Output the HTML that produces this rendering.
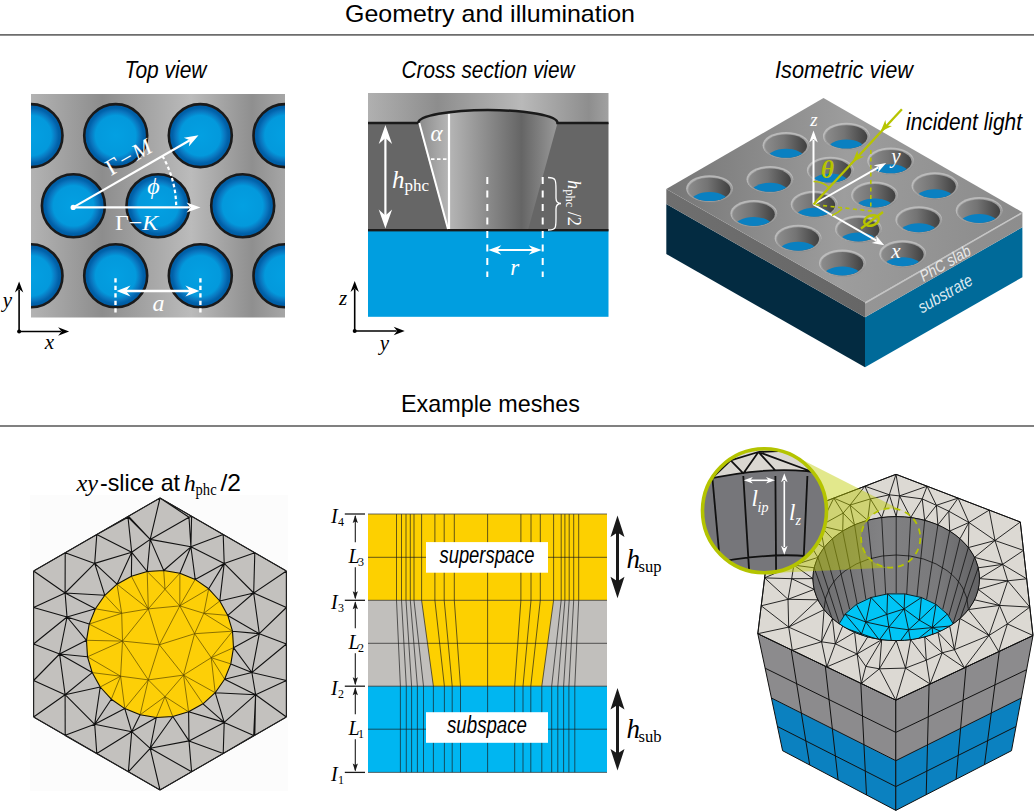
<!DOCTYPE html><html><head><meta charset="utf-8"><style>html,body{margin:0;padding:0;background:#fff;}svg{display:block;}</style></head><body>
<svg width="1034" height="811" viewBox="0 0 1034 811">
<defs>
<linearGradient id="metal" x1="0" y1="0" x2="1" y2="0">
<stop offset="0" stop-color="#b3b3b3"/><stop offset="0.28" stop-color="#8d8d8d"/><stop offset="0.63" stop-color="#bbbbbb"/><stop offset="0.87" stop-color="#8f8f8f"/><stop offset="1" stop-color="#a6a6a6"/></linearGradient>
<radialGradient id="holeg" cx="0.5" cy="0.5" r="0.5">
<stop offset="0" stop-color="#03a0e2"/><stop offset="0.64" stop-color="#0399dc"/><stop offset="0.79" stop-color="#0a74bd"/><stop offset="0.88" stop-color="#0062aa"/><stop offset="1" stop-color="#0058a0"/></radialGradient>
<linearGradient id="cone" gradientUnits="userSpaceOnUse" x1="418" y1="0" x2="558" y2="0">
<stop offset="0" stop-color="#8a8a8a"/><stop offset="0.22" stop-color="#b6b6b6"/><stop offset="0.74" stop-color="#656565"/><stop offset="1" stop-color="#9a9a9a"/></linearGradient>
<linearGradient id="metal2" gradientUnits="userSpaceOnUse" x1="368" y1="0" x2="608" y2="0">
<stop offset="0" stop-color="#b0b0b0"/><stop offset="0.29" stop-color="#8d8d8d"/><stop offset="0.64" stop-color="#b9b9b9"/><stop offset="0.92" stop-color="#8e8e8e"/><stop offset="1" stop-color="#a0a0a0"/></linearGradient>
<clipPath id="tvclip"><rect x="31" y="94" width="254" height="223.5"/></clipPath>

</defs>
<text x="345" y="21.5" font-family='"Liberation Sans", sans-serif' font-size="24" fill="#000"  text-anchor="start" textLength="290" lengthAdjust="spacingAndGlyphs" >Geometry and illumination</text>
<rect x="0" y="34.2" width="1034" height="1.4" fill="#4a4a4a"/>
<text x="401" y="411.5" font-family='"Liberation Sans", sans-serif' font-size="24" fill="#000"  text-anchor="start" textLength="179" lengthAdjust="spacingAndGlyphs" >Example meshes</text>
<rect x="0" y="425.3" width="1034" height="1.4" fill="#4a4a4a"/>
<text x="124.5" y="78.2" font-family='"Liberation Sans", sans-serif' font-size="24" fill="#000" font-style="italic" text-anchor="start" textLength="82" lengthAdjust="spacingAndGlyphs" >Top view</text>
<text x="401.5" y="78.2" font-family='"Liberation Sans", sans-serif' font-size="24" fill="#000" font-style="italic" text-anchor="start" textLength="173" lengthAdjust="spacingAndGlyphs" >Cross section view</text>
<text x="775" y="78.2" font-family='"Liberation Sans", sans-serif' font-size="24" fill="#000" font-style="italic" text-anchor="start" textLength="138" lengthAdjust="spacingAndGlyphs" >Isometric view</text>
<rect x="31" y="94" width="254" height="223.5" fill="url(#metal)"/>
<g clip-path="url(#tvclip)">
<circle cx="31" cy="135.6" r="31.5" fill="url(#holeg)" stroke="#1a1a1a" stroke-width="2.6"/>
<circle cx="115.7" cy="135.6" r="31.5" fill="url(#holeg)" stroke="#1a1a1a" stroke-width="2.6"/>
<circle cx="200.3" cy="135.6" r="31.5" fill="url(#holeg)" stroke="#1a1a1a" stroke-width="2.6"/>
<circle cx="285" cy="135.6" r="31.5" fill="url(#holeg)" stroke="#1a1a1a" stroke-width="2.6"/>
<circle cx="-11.3" cy="205.8" r="31.5" fill="url(#holeg)" stroke="#1a1a1a" stroke-width="2.6"/>
<circle cx="73.4" cy="205.8" r="31.5" fill="url(#holeg)" stroke="#1a1a1a" stroke-width="2.6"/>
<circle cx="158" cy="205.8" r="31.5" fill="url(#holeg)" stroke="#1a1a1a" stroke-width="2.6"/>
<circle cx="242.7" cy="205.8" r="31.5" fill="url(#holeg)" stroke="#1a1a1a" stroke-width="2.6"/>
<circle cx="327.4" cy="205.8" r="31.5" fill="url(#holeg)" stroke="#1a1a1a" stroke-width="2.6"/>
<circle cx="31" cy="275.8" r="31.5" fill="url(#holeg)" stroke="#1a1a1a" stroke-width="2.6"/>
<circle cx="115.7" cy="275.8" r="31.5" fill="url(#holeg)" stroke="#1a1a1a" stroke-width="2.6"/>
<circle cx="200.3" cy="275.8" r="31.5" fill="url(#holeg)" stroke="#1a1a1a" stroke-width="2.6"/>
<circle cx="285" cy="275.8" r="31.5" fill="url(#holeg)" stroke="#1a1a1a" stroke-width="2.6"/>
</g>
<line x1="73.2" y1="207.4" x2="190" y2="207.4" stroke="#fff" stroke-width="2.2"/>
<path d="M200.50,207.40 L186.50,212.40 L190.50,207.40 L186.50,202.40Z" fill="#fff"/>
<line x1="73.2" y1="207.4" x2="189.84" y2="140.19" stroke="#fff" stroke-width="2.2"/>
<path d="M198.50,135.20 L188.87,146.52 L189.84,140.19 L183.87,137.86Z" fill="#fff"/>
<circle cx="73.2" cy="207.4" r="2.6" fill="#fff"/>
<path d="M162.44,155.98 A103,103 0 0 1 176.20,207.4" fill="none" stroke="#fff" stroke-width="2.2" stroke-dasharray="3.5 2.5"/>
<g transform="translate(129,157.5) rotate(-29.95)">
<text x="0" y="7" font-family='"Liberation Serif", serif' font-size="23" fill="#fff" text-anchor="middle"><tspan>Γ</tspan><tspan dx="2">−</tspan><tspan dx="2" font-style="italic">M</tspan></text>
</g>
<text x="153.5" y="193.5" font-family='"Liberation Serif", serif' font-size="24" fill="#fff" font-style="italic" text-anchor="middle"  >ϕ</text>
<text x="115" y="229.9" font-family='"Liberation Serif", serif' font-size="21.5" fill="#fff" textLength="43.3" lengthAdjust="spacingAndGlyphs"><tspan>Γ−</tspan><tspan font-style="italic">K</tspan></text>
<line x1="115.5" y1="278.3" x2="115.5" y2="312.5" stroke="#fff" stroke-width="2.4" stroke-dasharray="4.2 3.3"/>
<line x1="200.4" y1="278.3" x2="200.4" y2="312.5" stroke="#fff" stroke-width="2.4" stroke-dasharray="4.2 3.3"/>
<line x1="125" y1="291" x2="191" y2="291" stroke="#fff" stroke-width="2.3"/>
<path d="M116.50,291.00 L130.50,285.50 L126.00,291.00 L130.50,296.50Z" fill="#fff"/>
<path d="M199.40,291.00 L185.40,296.50 L189.90,291.00 L185.40,285.50Z" fill="#fff"/>
<text x="158.5" y="310.5" font-family='"Liberation Serif", serif' font-size="24" fill="#fff" font-style="italic" text-anchor="middle"  >a</text>
<line x1="19.1" y1="331.5" x2="19.1" y2="289.5" stroke="#000" stroke-width="1.6"/>
<path d="M19.10,281.50 L23.30,292.50 L19.10,289.00 L14.90,292.50Z" fill="#000"/>
<line x1="19.1" y1="331.5" x2="61.1" y2="331.5" stroke="#000" stroke-width="1.6"/>
<path d="M69.10,331.50 L58.10,335.70 L61.60,331.50 L58.10,327.30Z" fill="#000"/>
<circle cx="19.1" cy="331.5" r="2" fill="#000"/>
<text x="49.4" y="348.5" font-family='"Liberation Serif", serif' font-size="21" fill="#000" font-style="italic" text-anchor="middle"  >x</text>
<text x="7.5" y="307" font-family='"Liberation Serif", serif' font-size="21" fill="#000" font-style="italic" text-anchor="middle"  >y</text>
<rect x="368" y="93" width="240.5" height="31" fill="url(#metal2)"/>
<rect x="368" y="123" width="240.5" height="107.5" fill="#666666"/>
<rect x="368" y="230" width="240.5" height="86.8" fill="#009ee0"/>
<path d="M418.3,123 A69.6,13 0 0 1 557.5,123 L528,230 L448,230 Z" fill="url(#cone)"/>
<path d="M368,123 L418.3,123 A69.6,13 0 0 1 557.5,123 L608.5,123" fill="none" stroke="#1a1a1a" stroke-width="2.5"/>
<rect x="368" y="229" width="240.5" height="2.4" fill="#1a1a1a"/>
<line x1="419.3" y1="123" x2="448" y2="229" stroke="#fff" stroke-width="2"/>
<line x1="449" y1="114" x2="449" y2="229" stroke="#fff" stroke-width="2.2"/>
<line x1="431" y1="159.2" x2="448" y2="159.2" stroke="#fff" stroke-width="1.8" stroke-dasharray="3.5 2.5"/>
<text x="436.5" y="141" font-family='"Liberation Serif", serif' font-size="23" fill="#fff" font-style="italic" text-anchor="middle"  >α</text>
<line x1="385.4" y1="135" x2="385.4" y2="218" stroke="#fff" stroke-width="2.2"/>
<path d="M385.40,125.00 L392.10,144.00 L385.40,138.00 L378.70,144.00Z" fill="#fff"/>
<path d="M385.40,228.50 L378.70,209.50 L385.40,215.50 L392.10,209.50Z" fill="#fff"/>
<text x="392" y="188" font-family='"Liberation Serif", serif' font-size="25" fill="#fff"><tspan font-style="italic">h</tspan><tspan font-size="17" dy="3">phc</tspan></text>
<line x1="487.3" y1="177" x2="487.3" y2="277" stroke="#fff" stroke-width="2" stroke-dasharray="7 6.5"/>
<line x1="542.7" y1="177" x2="542.7" y2="277" stroke="#fff" stroke-width="2" stroke-dasharray="7 6.5"/>
<line x1="496" y1="250" x2="534" y2="250" stroke="#fff" stroke-width="2"/>
<path d="M488.30,250.00 L501.30,245.20 L497.30,250.00 L501.30,254.80Z" fill="#fff"/>
<path d="M541.70,250.00 L528.70,254.80 L532.70,250.00 L528.70,245.20Z" fill="#fff"/>
<text x="514.8" y="275" font-family='"Liberation Serif", serif' font-size="23" fill="#fff" font-style="italic" text-anchor="middle"  >r</text>
<path d="M548,177.5 C556,177.5 556,180 556,190 L556,198 C556,202 558,203.5 561,203.5 C558,203.5 556,205 556,209 L556,218 C556,228 556,230 548,230" fill="none" stroke="#fff" stroke-width="1.3"/>
<g transform="translate(568,180) rotate(90)"><text x="0" y="0" font-family='"Liberation Serif", serif' font-size="19" fill="#fff" textLength="46" lengthAdjust="spacingAndGlyphs"><tspan font-style="italic">h</tspan><tspan font-size="13" dy="2">phc</tspan><tspan dy="-2"> /2</tspan></text></g>
<line x1="354.7" y1="331" x2="354.7" y2="289" stroke="#000" stroke-width="1.6"/>
<path d="M354.70,281.00 L358.90,292.00 L354.70,288.50 L350.50,292.00Z" fill="#000"/>
<line x1="354.7" y1="331" x2="396.7" y2="331" stroke="#000" stroke-width="1.6"/>
<path d="M404.70,331.00 L393.70,335.20 L397.20,331.00 L393.70,326.80Z" fill="#000"/>
<circle cx="354.7" cy="331" r="2" fill="#000"/>
<text x="384.5" y="350" font-family='"Liberation Serif", serif' font-size="21" fill="#000" font-style="italic" text-anchor="middle"  >y</text>
<text x="343" y="305" font-family='"Liberation Serif", serif' font-size="21" fill="#000" font-style="italic" text-anchor="middle"  >z</text>
<defs>
<linearGradient id="isotop" gradientUnits="userSpaceOnUse" x1="666" y1="189" x2="1022" y2="212">
<stop offset="0" stop-color="#767676"/><stop offset="0.5" stop-color="#9d9d9d"/><stop offset="1" stop-color="#8a8a8a"/></linearGradient>
<linearGradient id="isowall" x1="0" y1="0" x2="1" y2="0">
<stop offset="0" stop-color="#8c8c8c"/><stop offset="0.45" stop-color="#747474"/><stop offset="1" stop-color="#404040"/></linearGradient>
<linearGradient id="slabL" gradientUnits="userSpaceOnUse" x1="666" y1="0" x2="865" y2="0">
<stop offset="0" stop-color="#6f6f6f"/><stop offset="1" stop-color="#666666"/></linearGradient>
<linearGradient id="slabR" gradientUnits="userSpaceOnUse" x1="865" y1="0" x2="1022" y2="0">
<stop offset="0" stop-color="#959595"/><stop offset="1" stop-color="#8d8d8d"/></linearGradient>
</defs>
<polygon points="666.30,204.10 865.00,317.30 865.00,367.30 666.30,254.10" fill="#032b41"/>
<polygon points="865.00,317.30 1022.40,227.20 1022.40,277.20 865.00,367.30" fill="#006a99"/>
<polygon points="666.30,189.10 865.00,302.30 865.00,317.30 666.30,204.10" fill="url(#slabL)"/>
<polygon points="865.00,302.30 1022.40,212.20 1022.40,227.20 865.00,317.30" fill="url(#slabR)"/>
<polygon points="823.50,98.00 1022.40,212.20 865.00,302.30 666.30,189.10" fill="url(#isotop)"/>
<polyline points="865.00,303.10 1021.40,213.20" fill="none" stroke="#cacaca" stroke-width="1.6" stroke-opacity="0.9"/>
<clipPath id="hc0"><ellipse cx="785.98" cy="146.12" rx="21" ry="11.7"/></clipPath>
<ellipse cx="785.98" cy="145.32" rx="23.4" ry="13.4" fill="#c4c4c4" opacity="0.8"/>
<ellipse cx="786.58" cy="146.52" rx="22.6" ry="12.8" fill="#8a8a8a" opacity="0.6"/>
<ellipse cx="785.98" cy="146.12" rx="21" ry="11.7" fill="url(#isowall)"/>
<ellipse cx="785.98" cy="159.32" rx="19.5" ry="10.5" fill="#0a80c1" clip-path="url(#hc0)"/>
<clipPath id="hc1"><ellipse cx="846.33" cy="136.87" rx="21" ry="11.7"/></clipPath>
<ellipse cx="846.33" cy="136.07" rx="23.4" ry="13.4" fill="#c4c4c4" opacity="0.8"/>
<ellipse cx="846.93" cy="137.27" rx="22.6" ry="12.8" fill="#8a8a8a" opacity="0.6"/>
<ellipse cx="846.33" cy="136.87" rx="21" ry="11.7" fill="url(#isowall)"/>
<ellipse cx="846.33" cy="150.07" rx="19.5" ry="10.5" fill="#0a80c1" clip-path="url(#hc1)"/>
<clipPath id="hc2"><ellipse cx="709.53" cy="189.40" rx="21" ry="11.7"/></clipPath>
<ellipse cx="709.53" cy="188.60" rx="23.4" ry="13.4" fill="#c4c4c4" opacity="0.8"/>
<ellipse cx="710.13" cy="189.80" rx="22.6" ry="12.8" fill="#8a8a8a" opacity="0.6"/>
<ellipse cx="709.53" cy="189.40" rx="21" ry="11.7" fill="url(#isowall)"/>
<ellipse cx="709.53" cy="202.60" rx="19.5" ry="10.5" fill="#0a80c1" clip-path="url(#hc2)"/>
<clipPath id="hc3"><ellipse cx="769.88" cy="180.16" rx="21" ry="11.7"/></clipPath>
<ellipse cx="769.88" cy="179.35" rx="23.4" ry="13.4" fill="#c4c4c4" opacity="0.8"/>
<ellipse cx="770.48" cy="180.55" rx="22.6" ry="12.8" fill="#8a8a8a" opacity="0.6"/>
<ellipse cx="769.88" cy="180.16" rx="21" ry="11.7" fill="url(#isowall)"/>
<ellipse cx="769.88" cy="193.35" rx="19.5" ry="10.5" fill="#0a80c1" clip-path="url(#hc3)"/>
<clipPath id="hc4"><ellipse cx="830.24" cy="170.91" rx="21" ry="11.7"/></clipPath>
<ellipse cx="830.24" cy="170.11" rx="23.4" ry="13.4" fill="#c4c4c4" opacity="0.8"/>
<ellipse cx="830.84" cy="171.31" rx="22.6" ry="12.8" fill="#8a8a8a" opacity="0.6"/>
<ellipse cx="830.24" cy="170.91" rx="21" ry="11.7" fill="url(#isowall)"/>
<ellipse cx="830.24" cy="184.11" rx="19.5" ry="10.5" fill="#0a80c1" clip-path="url(#hc4)"/>
<clipPath id="hc5"><ellipse cx="890.59" cy="161.67" rx="21" ry="11.7"/></clipPath>
<ellipse cx="890.59" cy="160.87" rx="23.4" ry="13.4" fill="#c4c4c4" opacity="0.8"/>
<ellipse cx="891.19" cy="162.06" rx="22.6" ry="12.8" fill="#8a8a8a" opacity="0.6"/>
<ellipse cx="890.59" cy="161.67" rx="21" ry="11.7" fill="url(#isowall)"/>
<ellipse cx="890.59" cy="174.87" rx="19.5" ry="10.5" fill="#0a80c1" clip-path="url(#hc5)"/>
<clipPath id="hc6"><ellipse cx="753.79" cy="214.19" rx="21" ry="11.7"/></clipPath>
<ellipse cx="753.79" cy="213.39" rx="23.4" ry="13.4" fill="#c4c4c4" opacity="0.8"/>
<ellipse cx="754.39" cy="214.59" rx="22.6" ry="12.8" fill="#8a8a8a" opacity="0.6"/>
<ellipse cx="753.79" cy="214.19" rx="21" ry="11.7" fill="url(#isowall)"/>
<ellipse cx="753.79" cy="227.39" rx="19.5" ry="10.5" fill="#0a80c1" clip-path="url(#hc6)"/>
<clipPath id="hc7"><ellipse cx="814.14" cy="204.95" rx="21" ry="11.7"/></clipPath>
<ellipse cx="814.14" cy="204.15" rx="23.4" ry="13.4" fill="#c4c4c4" opacity="0.8"/>
<ellipse cx="814.74" cy="205.35" rx="22.6" ry="12.8" fill="#8a8a8a" opacity="0.6"/>
<ellipse cx="814.14" cy="204.95" rx="21" ry="11.7" fill="url(#isowall)"/>
<ellipse cx="814.14" cy="218.15" rx="19.5" ry="10.5" fill="#0a80c1" clip-path="url(#hc7)"/>
<clipPath id="hc8"><ellipse cx="874.50" cy="195.70" rx="21" ry="11.7"/></clipPath>
<ellipse cx="874.50" cy="194.90" rx="23.4" ry="13.4" fill="#c4c4c4" opacity="0.8"/>
<ellipse cx="875.10" cy="196.10" rx="22.6" ry="12.8" fill="#8a8a8a" opacity="0.6"/>
<ellipse cx="874.50" cy="195.70" rx="21" ry="11.7" fill="url(#isowall)"/>
<ellipse cx="874.50" cy="208.90" rx="19.5" ry="10.5" fill="#0a80c1" clip-path="url(#hc8)"/>
<clipPath id="hc9"><ellipse cx="934.85" cy="186.46" rx="21" ry="11.7"/></clipPath>
<ellipse cx="934.85" cy="185.66" rx="23.4" ry="13.4" fill="#c4c4c4" opacity="0.8"/>
<ellipse cx="935.45" cy="186.86" rx="22.6" ry="12.8" fill="#8a8a8a" opacity="0.6"/>
<ellipse cx="934.85" cy="186.46" rx="21" ry="11.7" fill="url(#isowall)"/>
<ellipse cx="934.85" cy="199.66" rx="19.5" ry="10.5" fill="#0a80c1" clip-path="url(#hc9)"/>
<clipPath id="hc10"><ellipse cx="798.05" cy="238.99" rx="21" ry="11.7"/></clipPath>
<ellipse cx="798.05" cy="238.19" rx="23.4" ry="13.4" fill="#c4c4c4" opacity="0.8"/>
<ellipse cx="798.65" cy="239.39" rx="22.6" ry="12.8" fill="#8a8a8a" opacity="0.6"/>
<ellipse cx="798.05" cy="238.99" rx="21" ry="11.7" fill="url(#isowall)"/>
<ellipse cx="798.05" cy="252.19" rx="19.5" ry="10.5" fill="#0a80c1" clip-path="url(#hc10)"/>
<clipPath id="hc11"><ellipse cx="858.40" cy="229.74" rx="21" ry="11.7"/></clipPath>
<ellipse cx="858.40" cy="228.94" rx="23.4" ry="13.4" fill="#c4c4c4" opacity="0.8"/>
<ellipse cx="859.00" cy="230.14" rx="22.6" ry="12.8" fill="#8a8a8a" opacity="0.6"/>
<ellipse cx="858.40" cy="229.74" rx="21" ry="11.7" fill="url(#isowall)"/>
<ellipse cx="858.40" cy="242.94" rx="19.5" ry="10.5" fill="#0a80c1" clip-path="url(#hc11)"/>
<clipPath id="hc12"><ellipse cx="918.76" cy="220.50" rx="21" ry="11.7"/></clipPath>
<ellipse cx="918.76" cy="219.70" rx="23.4" ry="13.4" fill="#c4c4c4" opacity="0.8"/>
<ellipse cx="919.36" cy="220.90" rx="22.6" ry="12.8" fill="#8a8a8a" opacity="0.6"/>
<ellipse cx="918.76" cy="220.50" rx="21" ry="11.7" fill="url(#isowall)"/>
<ellipse cx="918.76" cy="233.70" rx="19.5" ry="10.5" fill="#0a80c1" clip-path="url(#hc12)"/>
<clipPath id="hc13"><ellipse cx="979.11" cy="211.25" rx="21" ry="11.7"/></clipPath>
<ellipse cx="979.11" cy="210.45" rx="23.4" ry="13.4" fill="#c4c4c4" opacity="0.8"/>
<ellipse cx="979.71" cy="211.65" rx="22.6" ry="12.8" fill="#8a8a8a" opacity="0.6"/>
<ellipse cx="979.11" cy="211.25" rx="21" ry="11.7" fill="url(#isowall)"/>
<ellipse cx="979.11" cy="224.45" rx="19.5" ry="10.5" fill="#0a80c1" clip-path="url(#hc13)"/>
<clipPath id="hc14"><ellipse cx="842.31" cy="263.78" rx="21" ry="11.7"/></clipPath>
<ellipse cx="842.31" cy="262.98" rx="23.4" ry="13.4" fill="#c4c4c4" opacity="0.8"/>
<ellipse cx="842.91" cy="264.18" rx="22.6" ry="12.8" fill="#8a8a8a" opacity="0.6"/>
<ellipse cx="842.31" cy="263.78" rx="21" ry="11.7" fill="url(#isowall)"/>
<ellipse cx="842.31" cy="276.98" rx="19.5" ry="10.5" fill="#0a80c1" clip-path="url(#hc14)"/>
<clipPath id="hc15"><ellipse cx="902.66" cy="254.53" rx="21" ry="11.7"/></clipPath>
<ellipse cx="902.66" cy="253.73" rx="23.4" ry="13.4" fill="#c4c4c4" opacity="0.8"/>
<ellipse cx="903.26" cy="254.93" rx="22.6" ry="12.8" fill="#8a8a8a" opacity="0.6"/>
<ellipse cx="902.66" cy="254.53" rx="21" ry="11.7" fill="url(#isowall)"/>
<ellipse cx="902.66" cy="267.73" rx="19.5" ry="10.5" fill="#0a80c1" clip-path="url(#hc15)"/>
<line x1="813.5" y1="204.5" x2="813.5" y2="140" stroke="#fff" stroke-width="2"/>
<path d="M813.50,130.50 L817.80,142.50 L813.50,139.00 L809.20,142.50Z" fill="#fff"/>
<line x1="813.5" y1="204.5" x2="878.39" y2="167.37" stroke="#fff" stroke-width="2"/>
<path d="M886.20,162.90 L877.92,172.59 L878.82,167.12 L873.65,165.13Z" fill="#fff"/>
<line x1="813.5" y1="204.5" x2="876.50" y2="240.71" stroke="#fff" stroke-width="2"/>
<path d="M884.30,245.20 L871.75,242.95 L876.93,240.96 L876.04,235.49Z" fill="#fff"/>
<text x="814" y="126" font-family='"Liberation Serif", serif' font-size="19" fill="#fff" font-style="italic" text-anchor="middle"  >z</text>
<text x="896" y="163" font-family='"Liberation Serif", serif' font-size="21" fill="#fff" font-style="italic" text-anchor="middle"  >y</text>
<text x="896" y="258" font-family='"Liberation Serif", serif' font-size="21" fill="#fff" font-style="italic" text-anchor="middle"  >x</text>
<line x1="901.9" y1="109.2" x2="813.5" y2="204.5" stroke="#b7c400" stroke-width="2.3"/>
<path d="M880.50,131.80 L885.36,119.94 L886.28,125.57 L891.96,126.06Z" fill="#b7c400"/>
<path d="M852.50,162.20 L857.36,150.34 L858.28,155.97 L863.96,156.46Z" fill="#b7c400"/>
<path d="M813.5,181.5 A23,23 0 0 1 829.07,187.57" fill="none" stroke="#b7c400" stroke-width="1.6"/>
<text x="827.5" y="177.5" font-family='"Liberation Serif", serif' font-size="25" fill="#b7c400" font-style="italic" text-anchor="middle"  font-weight="bold">θ</text>
<polyline points="870.8,150 870.8,211 813.5,204.5" fill="none" stroke="#b7c400" stroke-width="1.6" stroke-dasharray="4 3.5"/>
<path d="M832,215.5 Q838,213 842,209" fill="none" stroke="#b7c400" stroke-width="1.6"/>
<g transform="translate(871.5,220.5) rotate(-18)"><ellipse cx="0" cy="0" rx="7.5" ry="5" fill="none" stroke="#b7c400" stroke-width="2.4"/></g>
<line x1="861" y1="228.5" x2="883" y2="212" stroke="#b7c400" stroke-width="2.2"/>
<text x="906" y="129.8" font-family='"Liberation Sans", sans-serif' font-size="24" fill="#000" font-style="italic" text-anchor="start" textLength="116" lengthAdjust="spacingAndGlyphs" >incident light</text>
<g transform="translate(923.5,282) rotate(-29.79)"><text x="0" y="0" font-family='"Liberation Sans", sans-serif' font-size="16" fill="#e8e8e8" font-style="italic" textLength="56" lengthAdjust="spacingAndGlyphs">PhC slab</text></g>
<g transform="translate(922,313.5) rotate(-29.79)"><text x="0" y="0" font-family='"Liberation Sans", sans-serif' font-size="17" fill="#dde9f0" font-style="italic" textLength="60" lengthAdjust="spacingAndGlyphs">substrate</text></g>
<rect x="30" y="495" width="258" height="296" fill="#fcfcfc"/>
<text x="76.4" y="491" font-family='"Liberation Serif", serif' font-size="24" font-style="italic" textLength="21.5" lengthAdjust="spacingAndGlyphs">xy</text>
<text x="100" y="491" font-family='"Liberation Sans", sans-serif' font-size="24" fill="#000"  text-anchor="start" textLength="80" lengthAdjust="spacingAndGlyphs" >-slice at</text>
<text x="183.8" y="491" font-family='"Liberation Serif", serif' font-size="24" font-style="italic">h</text>
<text x="195.6" y="495" font-family='"Liberation Serif", serif' font-size="16.5" textLength="21" lengthAdjust="spacingAndGlyphs">phc</text>
<text x="220.5" y="491" font-family='"Liberation Sans", sans-serif' font-size="24" fill="#000"  text-anchor="start" textLength="20.5" lengthAdjust="spacingAndGlyphs" >/2</text>
<polygon points="160.00,498.00 286.44,571.00 286.44,717.00 160.00,790.00 33.56,717.00 33.56,571.00" fill="#c3c1be"/>
<circle cx="160.0" cy="644.0" r="73.6" fill="#fdcf07"/>
<path d="M195.2,579.4L179.8,605.9M215.2,692.7L183.5,675.1M147.2,571.5L165.0,589.3M188.6,711.8L183.5,675.1M232.5,631.2L203.8,613.3M194.6,633.7L183.5,675.1M140.1,714.8L148.3,679.9M86.5,640.3L122.5,641.1M219.8,601.0L203.8,613.3M179.8,605.9L203.8,613.3M122.5,641.1L120.6,676.2M159.4,644.8L148.3,679.9M117.0,584.2L148.3,608.9M232.5,631.2L194.6,633.7M140.1,714.8L165.0,696.6M233.5,647.7L211.2,657.7M95.4,608.8L121.7,613.3M179.8,605.9L194.6,633.7M117.0,584.2L121.7,613.3M148.3,679.9L165.0,696.6M179.9,573.2L165.0,589.3M122.5,641.1L159.4,644.8M92.2,672.6L120.6,676.2M215.2,692.7L211.2,657.7M208.7,588.8L179.8,605.9M159.4,644.8L194.6,633.7M203.0,703.8L183.5,675.1M148.3,608.9L179.8,605.9M194.6,633.7L211.2,657.7M89.2,624.1L122.5,641.1M179.8,605.9L165.0,589.3M122.5,641.1L148.3,679.9M159.4,644.8L183.5,675.1M87.5,656.8L122.5,641.1M148.3,608.9L122.5,641.1M131.4,576.2L148.3,608.9M124.8,708.6L148.3,679.9M179.8,605.9L159.4,644.8M121.7,613.3L122.5,641.1M156.3,717.5L165.0,696.6M111.3,699.2L120.6,676.2M148.3,679.9L120.6,676.2M232.5,631.2L211.2,657.7M230.8,663.9L211.2,657.7M163.7,570.5L165.0,589.3M100.2,687.0L120.6,676.2M224.6,679.2L211.2,657.7M208.7,588.8L203.8,613.3M87.5,656.8L120.6,676.2M211.2,657.7L183.5,675.1M227.8,615.4L203.8,613.3M89.2,624.1L121.7,613.3M188.6,711.8L165.0,696.6M183.5,675.1L148.3,679.9M104.8,595.3L121.7,613.3M148.3,608.9L121.7,613.3M148.3,608.9L165.0,589.3M179.9,573.2L179.8,605.9M183.5,675.1L165.0,696.6M148.3,608.9L159.4,644.8M172.8,716.5L165.0,696.6M124.8,708.6L120.6,676.2M147.2,571.5L148.3,608.9M194.6,633.7L203.8,613.3" stroke="#5a4800" stroke-width="0.7" fill="none"/>
<path d="M251.9,672.5L255.6,694.7M286.4,680.5L251.9,672.5M150.2,539.4L190.9,546.8M33.6,644.0L67.0,617.0M147.2,571.5L163.7,570.5M227.8,615.4L253.7,593.0M233.5,647.7L232.5,631.2M117.0,584.2L131.7,552.3M286.4,717.0L254.8,735.2M92.2,672.6L59.6,654.0M95.4,608.8L104.8,595.3M286.4,717.0L255.6,694.7M232.5,631.2L259.3,633.7M96.8,753.5L65.1,735.4M33.6,607.5L65.1,593.0M160.0,498.0L128.4,516.2M233.5,647.7L251.9,672.5M190.9,546.8L189.0,517.2M86.5,640.3L59.6,654.0M65.2,735.2L94.7,724.3M104.8,595.3L117.0,584.2M33.6,644.0L33.6,607.5M255.6,694.7L224.2,722.4M33.6,717.0L65.1,735.4M163.7,570.5L150.2,539.4M89.2,624.1L67.0,617.0M254.8,552.8L253.7,593.0M96.8,534.5L128.0,517.2M96.8,753.5L65.2,735.2M254.8,735.2L223.2,753.5M172.8,716.5L189.0,740.9M224.2,722.4L189.0,740.9M223.2,534.5L190.9,546.8M179.9,573.2L190.9,546.8M124.8,708.6L131.7,731.7M65.2,735.2L33.6,717.0M195.2,579.4L208.7,588.8M33.6,717.0L65.1,694.7M117.0,584.2L131.4,576.2M255.6,694.7L253.7,735.4M111.3,699.2L94.7,724.3M86.5,640.3L89.2,624.1M208.7,588.8L219.8,601.0M33.6,680.5L59.6,654.0M59.6,654.0L67.0,617.0M189.0,740.9L150.2,748.3M254.8,735.2L253.7,735.4M128.4,771.8L150.2,748.3M224.6,679.2L255.6,694.7M33.6,717.0L33.6,680.5M259.3,633.7L251.9,672.5M67.0,617.0L65.1,593.0M195.2,579.4L190.9,546.8M160.0,790.0L128.4,771.8M96.8,534.5L128.4,516.2M131.7,731.7L94.7,724.3M286.4,607.5L259.3,633.7M160.0,790.0L65.1,735.4M219.8,601.0L227.8,615.4M191.6,771.8L189.0,740.9M128.4,771.8L96.8,753.5M163.7,570.5L179.9,573.2M100.2,687.0L94.7,724.3M227.8,615.4L232.5,631.2M33.6,644.0L59.6,654.0M65.2,552.8L65.1,593.0M179.9,573.2L195.2,579.4M94.7,724.3L65.1,694.7M131.4,576.2L131.7,552.3M33.6,607.5L33.6,571.0M219.8,601.0L253.7,593.0M233.5,647.7L259.3,633.7M65.1,694.7L59.6,654.0M233.5,647.7L230.8,663.9M286.4,680.5L255.6,694.7M156.3,717.5L150.2,748.3M33.6,571.0L65.2,552.8M254.8,552.8L224.2,563.4M87.5,656.8L59.6,654.0M96.8,753.5L94.7,724.3M254.8,735.2L255.6,694.7M147.2,571.5L150.2,539.4M140.1,714.8L131.7,731.7M223.2,753.5L224.2,722.4M230.8,663.9L251.9,672.5M172.8,716.5L156.3,717.5M230.8,663.9L224.6,679.2M96.8,534.5L131.7,552.3M163.7,570.5L190.9,546.8M95.4,608.8L67.0,617.0M224.6,679.2L215.2,692.7M65.2,552.8L96.8,534.5M286.4,571.0L253.7,593.0M128.4,516.2L128.0,517.2M156.3,717.5L140.1,714.8M150.2,539.4L128.0,517.2M215.2,692.7L224.2,722.4M33.6,680.5L33.6,644.0M104.8,595.3L65.1,593.0M215.2,692.7L203.0,703.8M124.8,708.6L94.7,724.3M208.7,588.8L224.2,563.4M160.0,498.0L189.0,517.2M223.2,753.5L253.7,735.4M188.6,711.8L224.2,722.4M286.4,644.0L251.9,672.5M128.4,516.2L150.2,539.4M160.0,790.0L150.2,748.3M286.4,607.5L286.4,644.0M286.4,607.5L253.7,593.0M117.0,584.2L94.7,563.4M92.2,672.6L65.1,694.7M191.6,516.2L223.2,534.5M33.6,607.5L67.0,617.0M203.0,703.8L188.6,711.8M191.6,516.2L189.0,517.2M65.2,735.2L65.1,735.4M33.6,571.0L65.1,593.0M188.6,711.8L172.8,716.5M227.8,615.4L259.3,633.7M223.2,534.5L254.8,552.8M191.6,516.2L190.9,546.8M65.2,552.8L94.7,563.4M86.5,640.3L67.0,617.0M65.2,735.2L65.1,694.7M254.8,552.8L286.4,571.0M100.2,687.0L92.2,672.6M96.8,753.5L131.7,731.7M147.2,571.5L131.7,552.3M33.6,680.5L65.1,694.7M172.8,716.5L150.2,748.3M223.2,534.5L224.2,563.4M92.2,672.6L87.5,656.8M190.9,546.8L224.2,563.4M224.2,722.4L253.7,735.4M94.7,563.4L65.1,593.0M224.6,679.2L251.9,672.5M96.8,534.5L94.7,563.4M140.1,714.8L124.8,708.6M156.3,717.5L131.7,731.7M286.4,571.0L286.4,607.5M224.2,563.4L253.7,593.0M215.2,692.7L255.6,694.7M160.0,498.0L191.6,516.2M223.2,753.5L191.6,771.8M94.7,563.4L131.7,552.3M223.2,753.5L189.0,740.9M87.5,656.8L86.5,640.3M131.7,552.3L128.0,517.2M286.4,644.0L286.4,680.5M128.4,771.8L131.7,731.7M286.4,644.0L259.3,633.7M128.4,771.8L65.1,735.4M124.8,708.6L111.3,699.2M95.4,608.8L65.1,593.0M131.4,576.2L147.2,571.5M195.2,579.4L224.2,563.4M253.7,593.0L259.3,633.7M104.8,595.3L94.7,563.4M150.2,539.4L189.0,517.2M89.2,624.1L95.4,608.8M203.0,703.8L224.2,722.4M111.3,699.2L100.2,687.0M160.0,498.0L150.2,539.4M191.6,771.8L160.0,790.0M131.7,552.3L150.2,539.4M191.6,771.8L150.2,748.3M150.2,748.3L131.7,731.7M219.8,601.0L224.2,563.4M100.2,687.0L65.1,694.7M286.4,680.5L286.4,717.0M188.6,711.8L189.0,740.9" stroke="#111" stroke-width="1.1" fill="none"/>
<polygon points="160.00,498.00 286.44,571.00 286.44,717.00 160.00,790.00 33.56,717.00 33.56,571.00" fill="none" stroke="#222" stroke-width="1"/>
<rect x="368.0" y="514.0" width="239.0" height="86.29999999999995" fill="#fdd000"/>
<rect x="368.0" y="600.3" width="239.0" height="85.90000000000009" fill="#c1bfbc"/>
<rect x="368.0" y="686.2" width="239.0" height="86.19999999999993" fill="#00b6f1"/>
<polygon points="421.60,600.30 553.60,600.30 541.80,686.20 433.40,686.20" fill="#fdd000"/>
<path d="M396.50,514.0V600.3L400.40,686.2V772.4M401.50,514.0V600.3L406.30,686.2V772.4M406.00,514.0V600.3L411.60,686.2V772.4M410.30,514.0V600.3L417.40,686.2V772.4M414.00,514.0V600.3L423.50,686.2V772.4M421.60,514.0V600.3L433.40,686.2V772.4M434.90,514.0V600.3L444.40,686.2V772.4M444.20,514.0V600.3L452.20,686.2V772.4M454.30,514.0V600.3L460.50,686.2V772.4M487.60,514.0V600.3L487.60,686.2V772.4M520.90,514.0V600.3L514.70,686.2V772.4M531.00,514.0V600.3L523.00,686.2V772.4M540.30,514.0V600.3L530.80,686.2V772.4M553.60,514.0V600.3L541.80,686.2V772.4M561.20,514.0V600.3L551.70,686.2V772.4M564.90,514.0V600.3L557.80,686.2V772.4M569.20,514.0V600.3L563.60,686.2V772.4M573.70,514.0V600.3L568.90,686.2V772.4M578.70,514.0V600.3L574.80,686.2V772.4M368.0,557.3H607.0M368.0,600.3H607.0M368.0,643.3H607.0M368.0,686.2H607.0M368.0,729.2H607.0" stroke="#1a1a1a" stroke-width="0.8" fill="none" stroke-opacity="0.85"/>
<path d="M368.0,514.0H607.0M368.0,772.4H607.0" stroke="#444" stroke-width="0.8" fill="none"/>
<rect x="426" y="542.1" width="122" height="30.6" fill="#fff"/>
<rect x="426" y="712.2" width="122" height="30.6" fill="#fff"/>
<text x="487" y="563" font-family='"Liberation Sans", sans-serif' font-size="23" fill="#000" font-style="italic" text-anchor="middle" textLength="95" lengthAdjust="spacingAndGlyphs" >superspace</text>
<text x="487" y="733" font-family='"Liberation Sans", sans-serif' font-size="23" fill="#000" font-style="italic" text-anchor="middle" textLength="80" lengthAdjust="spacingAndGlyphs" >subspace</text>
<line x1="344.8" y1="772.4" x2="365" y2="772.4" stroke="#1a1a1a" stroke-width="1.3"/>
<line x1="344.8" y1="686.2" x2="365" y2="686.2" stroke="#1a1a1a" stroke-width="1.3"/>
<line x1="344.8" y1="600.3" x2="365" y2="600.3" stroke="#1a1a1a" stroke-width="1.3"/>
<line x1="344.8" y1="514.0" x2="365" y2="514.0" stroke="#1a1a1a" stroke-width="1.3"/>
<line x1="355.3" y1="688.2" x2="355.3" y2="714.2" stroke="#1a1a1a" stroke-width="1.1"/>
<line x1="355.3" y1="739.2" x2="355.3" y2="770.4" stroke="#1a1a1a" stroke-width="1.1"/>
<path d="M355.3,687.2 L352.7,695.2 L355.3,693.7 L357.90000000000003,695.2Z" fill="#1a1a1a"/>
<path d="M355.3,771.4 L352.7,763.4 L355.3,764.9 L357.90000000000003,763.4Z" fill="#1a1a1a"/>
<text x="348.6" y="735.2" font-family='"Liberation Serif", serif' font-size="20" font-style="italic">L</text>
<text x="358" y="738.2" font-family='"Liberation Serif", serif' font-size="12">1</text>
<line x1="355.3" y1="602.3" x2="355.3" y2="628.3" stroke="#1a1a1a" stroke-width="1.1"/>
<line x1="355.3" y1="653.3" x2="355.3" y2="684.2" stroke="#1a1a1a" stroke-width="1.1"/>
<path d="M355.3,601.3 L352.7,609.3 L355.3,607.8 L357.90000000000003,609.3Z" fill="#1a1a1a"/>
<path d="M355.3,685.2 L352.7,677.2 L355.3,678.7 L357.90000000000003,677.2Z" fill="#1a1a1a"/>
<text x="348.6" y="649.3" font-family='"Liberation Serif", serif' font-size="20" font-style="italic">L</text>
<text x="358" y="652.3" font-family='"Liberation Serif", serif' font-size="12">2</text>
<line x1="355.3" y1="516.0" x2="355.3" y2="542.3" stroke="#1a1a1a" stroke-width="1.1"/>
<line x1="355.3" y1="567.3" x2="355.3" y2="598.3" stroke="#1a1a1a" stroke-width="1.1"/>
<path d="M355.3,515.0 L352.7,523.0 L355.3,521.5 L357.90000000000003,523.0Z" fill="#1a1a1a"/>
<path d="M355.3,599.3 L352.7,591.3 L355.3,592.8 L357.90000000000003,591.3Z" fill="#1a1a1a"/>
<text x="348.6" y="563.3" font-family='"Liberation Serif", serif' font-size="20" font-style="italic">L</text>
<text x="358" y="566.3" font-family='"Liberation Serif", serif' font-size="12">3</text>
<text x="331" y="780.9" font-family='"Liberation Serif", serif' font-size="20" font-style="italic">I</text>
<text x="338" y="783.9" font-family='"Liberation Serif", serif' font-size="12">1</text>
<text x="331" y="694.7" font-family='"Liberation Serif", serif' font-size="20" font-style="italic">I</text>
<text x="338" y="697.7" font-family='"Liberation Serif", serif' font-size="12">2</text>
<text x="331" y="608.8" font-family='"Liberation Serif", serif' font-size="20" font-style="italic">I</text>
<text x="338" y="611.8" font-family='"Liberation Serif", serif' font-size="12">3</text>
<text x="331" y="522.5" font-family='"Liberation Serif", serif' font-size="20" font-style="italic">I</text>
<text x="338" y="525.5" font-family='"Liberation Serif", serif' font-size="12">4</text>
<line x1="617.5" y1="530.5" x2="617.5" y2="583.3" stroke="#1a1a1a" stroke-width="3"/>
<path d="M617.5,515.5 L610.5,537.0 L617.5,532.5 L624.5,537.0Z" fill="#1a1a1a"/>
<path d="M617.5,598.3 L610.5,576.8 L617.5,581.3 L624.5,576.8Z" fill="#1a1a1a"/>
<line x1="617.5" y1="703.0" x2="617.5" y2="755.5" stroke="#1a1a1a" stroke-width="3"/>
<path d="M617.5,688.0 L610.5,709.5 L617.5,705.0 L624.5,709.5Z" fill="#1a1a1a"/>
<path d="M617.5,770.5 L610.5,749.0 L617.5,753.5 L624.5,749.0Z" fill="#1a1a1a"/>
<text x="626.5" y="567.5" font-family='"Liberation Serif", serif' font-size="27" font-style="italic">h</text>
<text x="638.5" y="572" font-family='"Liberation Serif", serif' font-size="17" textLength="23" lengthAdjust="spacingAndGlyphs">sup</text>
<text x="626.5" y="737.5" font-family='"Liberation Serif", serif' font-size="27" font-style="italic">h</text>
<text x="638.5" y="742" font-family='"Liberation Serif", serif' font-size="17" textLength="23" lengthAdjust="spacingAndGlyphs">sub</text>
<polygon points="757.80,633.70 895.80,700.10 895.80,760.70 771.43,698.00" fill="#8c8b8d"/>
<polygon points="771.43,698.00 895.80,760.70 895.80,810.40 782.60,750.70" fill="#0b81c0"/>
<path d="M757.80,633.70L895.80,700.10M765.11,668.20L895.80,732.40M771.43,698.00L895.80,760.70M777.47,726.50L895.80,786.60M782.60,750.70L895.80,810.40M757.80,633.70L782.60,750.70M791.20,649.77L809.70,764.99M825.30,666.18L838.10,779.97M860.80,683.26L866.50,794.95M895.80,700.10L895.80,810.40" stroke="#111" stroke-width="1" fill="none"/>
<polygon points="1033.00,635.50 895.80,700.10 895.80,760.70 1021.34,698.00" fill="#8c8b8d"/>
<polygon points="1021.34,698.00 895.80,760.70 895.80,810.40 1011.50,750.70" fill="#0b81c0"/>
<path d="M1033.00,635.50L895.80,700.10M1026.62,669.70L895.80,732.40M1021.34,698.00L895.80,760.70M1016.02,726.50L895.80,786.60M1011.50,750.70L895.80,810.40M1033.00,635.50L1011.50,750.70M999.30,651.37L984.50,764.63M966.00,667.05L956.10,779.29M929.10,684.42L926.20,794.71M895.80,700.10L895.80,810.40" stroke="#111" stroke-width="1" fill="none"/>
<polygon points="896.00,474.30 1020.30,522.00 1033.00,635.50 895.80,700.10 757.80,633.70 771.50,522.00" fill="#dcd9d3"/>
<path d="M821.6,641.8L788.7,627.1M895.8,700.1L879.4,668.8M905.5,668.1L879.4,668.8M817.9,557.4L824.1,547.6M854.6,632.3L835.3,643.8M937.9,524.9L948.8,511.2M937.9,632.3L954.4,649.7M1033.0,635.5L998.7,651.6M998.7,651.6L989.0,635.4M817.9,599.8L814.2,589.4M812.9,578.6L791.7,578.7M910.7,639.7L905.5,668.1M896.0,474.3L864.9,486.2M814.2,567.8L793.8,565.1M832.4,618.5L835.3,643.8M924.7,636.9L942.2,652.8M867.7,520.3L850.0,505.1M814.2,589.4L812.9,578.6M764.6,577.9L788.0,599.3M788.7,627.1L788.0,599.3M764.6,577.9L768.1,549.9M999.5,605.4L989.0,635.4M968.3,609.6L999.5,605.4M949.7,531.1L948.8,511.2M826.8,666.9L792.3,650.3M964.4,667.8L989.0,635.4M998.7,651.6L964.4,667.8M978.2,589.4L999.5,605.4M788.0,599.3L791.7,578.7M989.2,510.1L995.0,540.5M974.5,557.4L995.0,540.5M896.2,516.6L889.3,494.8M817.9,557.4L803.5,533.9M792.3,650.3L757.8,633.7M842.7,531.1L854.5,524.9M764.6,577.9L793.8,565.1M812.9,578.6L814.2,567.8M881.7,639.7L865.8,666.4M968.3,609.6L989.0,635.4M824.1,547.6L820.2,525.8M826.8,666.9L821.6,641.8M832.4,618.5L824.1,609.6M960.0,538.7L968.9,522.5M854.5,524.9L867.7,520.3M850.0,505.1L870.4,498.9M814.2,589.4L788.0,599.3M791.7,578.7L793.8,565.1M936.4,505.3L948.8,511.2M910.7,517.5L899.5,495.9M1029.8,607.1L1007.7,580.8M792.3,650.3L788.7,627.1M757.8,633.7L761.2,605.8M927.1,486.2L899.5,495.9M835.3,643.8L821.6,641.8M870.4,498.9L889.3,494.8M924.7,520.3L922.2,498.9M895.8,700.1L861.3,683.5M833.8,498.1L820.2,525.8M960.0,618.5L954.4,649.7M803.5,533.9L820.2,525.8M833.8,498.1L864.9,486.2M761.2,605.8L788.7,627.1M930.1,684.0L926.3,660.2M867.7,520.3L881.7,517.5M979.5,578.6L1007.7,580.8M1023.5,550.4L1002.6,564.4M1007.7,580.8L1002.6,564.4M861.3,683.5L865.8,666.4M861.3,683.5L826.8,666.9M1029.8,607.1L1007.4,623.9M824.1,547.6L832.4,538.7M949.7,531.1L960.0,538.7M927.1,486.2L936.4,505.3M881.7,517.5L896.2,516.6M889.3,494.8L899.5,495.9M854.6,632.3L857.1,654.0M896.2,516.6L910.7,517.5M937.9,524.9L936.4,505.3M833.8,498.1L850.0,505.1M832.4,538.7L842.7,531.1M998.7,651.6L1007.4,623.9M820.2,525.8L843.2,513.1M910.7,639.7L926.3,660.2M899.5,495.9L922.2,498.9M881.7,517.5L870.4,498.9M768.1,549.9L771.5,522.0M843.2,513.1L850.0,505.1M979.5,578.6L978.2,589.4M979.5,578.6L1002.6,564.4M960.0,538.7L968.3,547.6M958.1,498.1L948.8,511.2M771.5,522.0L802.6,510.1M842.7,626.1L835.3,643.8M910.7,517.5L924.7,520.3M864.9,486.2L870.4,498.9M968.3,547.6L974.5,557.4M989.2,510.1L968.9,522.5M896.2,640.6L905.5,668.1M964.4,667.8L942.2,652.8M974.5,599.8L999.5,605.4M768.1,549.9L803.5,533.9M817.9,557.4L793.8,565.1M924.7,520.3L937.9,524.9M937.9,632.3L924.7,636.9M896.0,474.3L889.3,494.8M764.6,577.9L791.7,578.7M978.2,589.4L974.5,599.8M824.1,609.6L788.7,627.1M968.3,547.6L995.0,540.5M881.7,639.7L879.4,668.8M974.5,599.8L968.3,609.6M824.1,547.6L803.5,533.9M802.6,510.1L803.5,533.9M826.8,666.9L835.3,643.8M802.6,510.1L833.8,498.1M948.8,511.2L968.9,522.5M924.7,636.9L910.7,639.7M1020.3,522.0L995.0,540.5M974.5,557.4L1002.6,564.4M761.2,605.8L764.6,577.9M968.3,609.6L960.0,618.5M937.9,524.9L949.7,531.1M954.4,649.7L942.2,652.8M817.9,599.8L788.0,599.3M881.7,639.7L857.1,654.0M895.8,700.1L905.5,668.1M960.0,618.5L989.0,635.4M1007.7,580.8L999.5,605.4M1023.5,550.4L1026.7,578.8M968.9,522.5L995.0,540.5M842.7,531.1L843.2,513.1M979.5,578.6L978.2,567.8M814.2,589.4L791.7,578.7M927.1,486.2L958.1,498.1M861.3,683.5L879.4,668.8M910.7,517.5L922.2,498.9M1029.8,607.1L999.5,605.4M960.0,618.5L949.7,626.1M757.8,633.7L788.7,627.1M927.1,486.2L922.2,498.9M995.0,540.5L1002.6,564.4M854.5,524.9L850.0,505.1M922.2,498.9L936.4,505.3M949.7,626.1L937.9,632.3M999.5,605.4L1007.4,623.9M937.9,632.3L942.2,652.8M978.2,589.4L1007.7,580.8M812.9,578.6L793.8,565.1M958.1,498.1L989.2,510.1M867.7,636.9L857.1,654.0M1007.4,623.9L989.0,635.4M958.1,498.1L936.4,505.3M832.4,618.5L821.6,641.8M924.7,636.9L926.3,660.2M867.7,520.3L870.4,498.9M989.2,510.1L1020.3,522.0M974.5,557.4L978.2,567.8M867.7,636.9L854.6,632.3M864.9,486.2L850.0,505.1M949.7,531.1L968.9,522.5M964.4,667.8L954.4,649.7M881.7,517.5L889.3,494.8M768.1,549.9L793.8,565.1M854.6,632.3L842.7,626.1M879.4,668.8L865.8,666.4M896.2,516.6L899.5,495.9M989.0,635.4L954.4,649.7M832.4,538.7L820.2,525.8M1026.7,578.8L1007.7,580.8M824.1,609.6L821.6,641.8M958.1,498.1L968.9,522.5M792.3,650.3L821.6,641.8M968.3,547.6L968.9,522.5M910.7,639.7L896.2,640.6M771.5,522.0L803.5,533.9M1020.3,522.0L1023.5,550.4M826.8,666.9L857.1,654.0M865.8,666.4L857.1,654.0M864.9,486.2L889.3,494.8M896.0,474.3L927.1,486.2M896.2,640.6L879.4,668.8M942.2,652.8L926.3,660.2M930.1,684.0L942.2,652.8M964.4,667.8L930.1,684.0M1023.5,550.4L995.0,540.5M842.7,626.1L832.4,618.5M896.0,474.3L899.5,495.9M949.7,626.1L954.4,649.7M1026.7,578.8L1029.8,607.1M817.9,599.8L788.7,627.1M896.2,640.6L881.7,639.7M814.2,567.8L817.9,557.4M802.6,510.1L820.2,525.8M1026.7,578.8L1002.6,564.4M857.1,654.0L835.3,643.8M924.7,520.3L936.4,505.3M1033.0,635.5L1007.4,623.9M842.7,531.1L820.2,525.8M833.8,498.1L843.2,513.1M824.1,609.6L817.9,599.8M761.2,605.8L788.0,599.3M978.2,567.8L1002.6,564.4M881.7,639.7L867.7,636.9M930.1,684.0L905.5,668.1M930.1,684.0L895.8,700.1M926.3,660.2L905.5,668.1M793.8,565.1L803.5,533.9M861.3,683.5L857.1,654.0M854.5,524.9L843.2,513.1M1029.8,607.1L1033.0,635.5" stroke="#111" stroke-width="0.9" fill="none"/>
<polygon points="896.00,474.30 1020.30,522.00 1033.00,635.50 895.80,700.10 757.80,633.70 771.50,522.00" fill="none" stroke="#111" stroke-width="1"/>
<clipPath id="rimclip"><ellipse cx="896.2" cy="578.6" rx="83.3" ry="62.0"/></clipPath>
<g clip-path="url(#rimclip)">
<linearGradient id="wallg" x1="0" y1="0" x2="1" y2="0"><stop offset="0" stop-color="#6c6c6e"/><stop offset="0.4" stop-color="#818183"/><stop offset="0.75" stop-color="#7a7a7c"/><stop offset="1" stop-color="#636365"/></linearGradient>
<ellipse cx="896.2" cy="578.6" rx="83.3" ry="62.0" fill="url(#wallg)"/>
<path d="M978.2,567.8L956.0,630.6M974.5,557.4L953.2,623.0M968.3,547.6L948.8,615.9M960.0,538.7L942.7,609.5M949.7,531.1L935.2,603.9M937.9,524.9L926.6,599.4M924.7,520.3L917.0,596.1M910.7,517.5L906.7,594.1M896.2,516.6L896.2,593.4M881.7,517.5L885.7,594.1M867.7,520.3L875.4,596.1M854.6,524.9L865.9,599.4M842.7,531.1L857.2,603.9M832.4,538.7L849.7,609.5M824.1,547.6L843.6,615.9M817.9,557.4L839.2,623.0M814.2,567.8L836.4,630.6M824.2,608.5A72.0,53.5 0 0 1 968.2,608.5" stroke="#111" stroke-width="0.8" fill="none"/>
<ellipse cx="896.2" cy="638.4" rx="60.7" ry="45.0" fill="#00c5f6"/>
<path d="M871.0,597.5L886.9,614.4M871.0,679.3L874.1,657.6M856.4,672.4L845.1,662.7M904.1,608.9L908.6,629.8M925.5,654.8L911.1,644.4M838.0,651.1L861.5,646.1M921.4,597.5L936.0,604.4M932.2,627.6L908.6,629.8M907.8,663.3L893.1,650.8M887.6,593.9L904.1,608.9M856.4,604.4L871.0,597.5M845.1,662.7L838.0,651.1M921.4,679.3L925.5,654.8M861.5,646.1L879.3,640.0M871.0,597.5L887.6,593.9M936.0,604.4L919.3,620.1M845.1,614.1L861.6,633.8M893.1,650.8L888.9,627.0M865.8,622.0L879.3,640.0M947.3,614.1L932.2,627.6M887.6,593.9L904.8,593.9M838.0,625.7L845.1,614.1M933.7,644.8L925.5,654.8M904.8,682.9L888.1,663.3M845.1,614.1L856.4,604.4M856.4,672.4L861.5,646.1M925.5,654.8L907.8,663.3M904.1,608.9L888.9,627.0M936.0,604.4L947.3,614.1M907.8,663.3L888.1,663.3M947.3,662.7L933.7,644.8M887.6,593.9L886.9,614.4M947.3,614.1L954.4,625.7M936.0,672.4L925.5,654.8M886.9,614.4L904.1,608.9M835.5,638.4L861.5,646.1M888.1,663.3L874.1,657.6M888.1,663.3L893.1,650.8M874.1,657.6L861.5,646.1M874.1,657.6L879.3,640.0M904.1,608.9L919.3,620.1M921.4,597.5L919.3,620.1M838.0,625.7L861.6,633.8M921.4,679.3L907.8,663.3M904.8,593.9L921.4,597.5M861.5,646.1L861.6,633.8M861.6,633.8L879.3,640.0M936.0,604.4L932.2,627.6M871.0,597.5L865.8,622.0M904.8,682.9L887.6,682.9M871.0,679.3L888.1,663.3M865.8,622.0L888.9,627.0M954.4,625.7L932.2,627.6M954.4,651.1L947.3,662.7M933.7,644.8L911.1,644.4M861.6,633.8L865.8,622.0M856.4,672.4L874.1,657.6M956.9,638.4L933.7,644.8M919.3,620.1L908.6,629.8M907.8,663.3L911.1,644.4M865.8,622.0L886.9,614.4M947.3,662.7L936.0,672.4M911.1,644.4L908.6,629.8M904.8,593.9L904.1,608.9M845.1,662.7L861.5,646.1M886.9,614.4L888.9,627.0M956.9,638.4L932.2,627.6M936.0,672.4L921.4,679.3M893.1,650.8L879.3,640.0M879.3,640.0L888.9,627.0M947.3,662.7L925.5,654.8M919.3,620.1L932.2,627.6M845.1,614.1L865.8,622.0M921.4,679.3L904.8,682.9M893.1,650.8L908.6,629.8M874.1,657.6L893.1,650.8M921.4,597.5L904.1,608.9M956.9,638.4L954.4,651.1M838.0,651.1L835.5,638.4M904.8,682.9L907.8,663.3M888.9,627.0L908.6,629.8M835.5,638.4L861.6,633.8M887.6,682.9L871.0,679.3M932.2,627.6L911.1,644.4M887.6,682.9L888.1,663.3M933.7,644.8L932.2,627.6M911.1,644.4L893.1,650.8M835.5,638.4L838.0,625.7M856.4,604.4L865.8,622.0M956.9,638.4L954.4,625.7M871.0,679.3L856.4,672.4M954.4,651.1L933.7,644.8" stroke="#111" stroke-width="0.9" fill="none"/>
</g>
<ellipse cx="896.2" cy="578.6" rx="83.3" ry="62.0" fill="none" stroke="#111" stroke-width="1"/>
<path d="M767.3,573.2L892.0,567.6A29.6,29.6 0 1 1 904.1,511.6L792.8,455.1Z" fill="#bfcc00" fill-opacity="0.45"/>
<circle cx="890.7" cy="538.0" r="29.6" fill="none" stroke="#b4c400" stroke-width="1.8" stroke-dasharray="6 5"/>
<clipPath id="magclip"><circle cx="764.5" cy="510.8" r="62.5"/></clipPath>
<g clip-path="url(#magclip)">
<rect x="690" y="440" width="150" height="150" fill="#dad7d1"/>
<path d="M690,483 Q785,460 840,478 L840,600 L690,600Z" fill="#76767a"/>
<path d="M690,483 Q785,460 840,478M690,568 Q785,546 840,562M712.2,476.0L723.4,600M743.3,476.0L750.9,600M775.4,476.0L776.3,600M807.4,476.0L801.8,600M758.4,452.0L730.7,460.3M758.4,452.0L743.3,473.4M758.4,452.0L775.4,470.5M758.4,452.0L810.0,471.0M730.7,460.3L743.3,473.4M758.4,452.0L800,450M730.7,460.3L712,478M810,471L830,462" stroke="#111" stroke-width="1.8" fill="none"/>
</g>
<circle cx="764.5" cy="510.8" r="62.0" fill="none" stroke="#b4c400" stroke-width="3.6"/>
<line x1="750" y1="480.3" x2="769" y2="480.3" stroke="#fff" stroke-width="1.6"/>
<path d="M743.80,480.30 L752.80,477.00 L750.30,480.30 L752.80,483.60Z" fill="#fff"/>
<path d="M775.00,480.30 L766.00,483.60 L768.50,480.30 L766.00,477.00Z" fill="#fff"/>
<line x1="784.3" y1="481" x2="784.3" y2="547" stroke="#fff" stroke-width="1.6"/>
<path d="M784.30,473.30 L787.60,482.30 L784.30,479.80 L781.00,482.30Z" fill="#fff"/>
<path d="M784.30,554.70 L781.00,545.70 L784.30,548.20 L787.60,545.70Z" fill="#fff"/>
<text x="751.5" y="506" font-family='"Liberation Serif", serif' font-size="23" font-style="italic" fill="#fff">l</text>
<text x="757.5" y="512" font-family='"Liberation Serif", serif' font-size="14" font-style="italic" fill="#fff">ip</text>
<text x="789" y="520" font-family='"Liberation Serif", serif' font-size="23" font-style="italic" fill="#fff">l</text>
<text x="795.5" y="524.5" font-family='"Liberation Serif", serif' font-size="14" font-style="italic" fill="#fff">z</text>
</svg></body></html>
